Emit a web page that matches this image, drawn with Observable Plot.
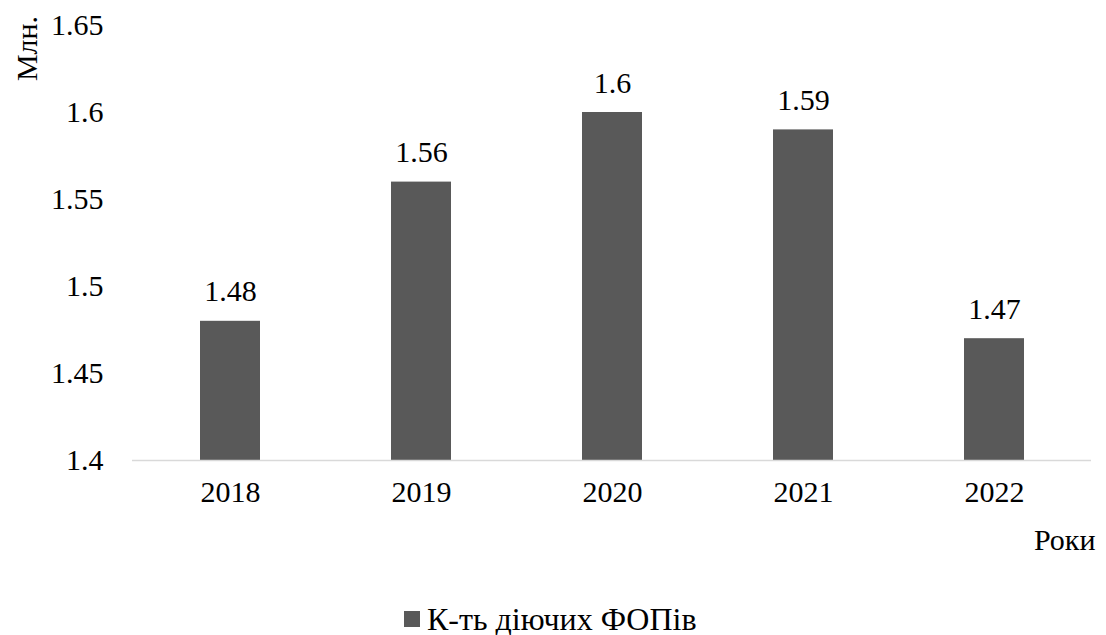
<!DOCTYPE html>
<html>
<head>
<meta charset="utf-8">
<script src="https://cdn.jsdelivr.net/npm/d3@7"></script>
<script src="https://cdn.jsdelivr.net/npm/@observablehq/plot@0.6"></script>
<style>
  body { margin: 0; background: #fff; font-family: "Liberation Serif", "DejaVu Serif", serif; overflow: hidden; }
  #wrap { position: relative; width: 1106px; height: 635px; }
  #legend { position: absolute; left: 404px; top: 603px; height: 32px; display: flex; align-items: center; font-family: "Liberation Serif", "DejaVu Serif", serif; font-size: 32px; line-height: 32px; color: #000; }
  #legend .sw { width: 16px; height: 16px; background: #595959; margin-right: 7px; }
  svg text { font-family: "Liberation Serif", "DejaVu Serif", serif !important; }
</style>
</head>
<body>
<div id="wrap">
  <div id="chart"></div>
  <div id="legend"><span class="sw"></span><span>К-ть діючих ФОПів</span></div>
</div>
<script>
const years = ["2018", "2019", "2020", "2021", "2022"];
const values = [1.48, 1.56, 1.6, 1.59, 1.47];
const yTicks = [1.4, 1.45, 1.5, 1.55, 1.6, 1.65];
const xTitle = "Роки";
const yTitle = "Млн.";

const data = years.map((y, i) => ({year: y, value: values[i]}));

const chart = Plot.plot({
  width: 1106,
  height: 570,
  marginLeft: 132,
  marginRight: 15,
  marginTop: 25,
  marginBottom: 110,
  style: {fontFamily: "Liberation Serif, DejaVu Serif, serif", fontSize: "30px", color: "#000", background: "#fff"},
  x: {domain: years, paddingInner: 0.687, paddingOuter: 0.3435, label: null},
  y: {domain: [1.4, 1.65], label: null},
  marks: [
    Plot.axisY({ticks: yTicks, tickFormat: d => String(d), tickSize: 0, tickPadding: 29, fontSize: 30, label: null}),
    Plot.axisX({tickSize: 0, tickPadding: 20, fontSize: 30, label: null}),
    Plot.barY(data, {x: "year", y1: 1.4, y2: "value", fill: "#595959"}),
    Plot.ruleY([1.4], {stroke: "#d9d9d9", strokeWidth: 1.5}),
    Plot.text(data, {x: "year", y: "value", text: d => String(d.value), lineAnchor: "bottom", dy: -20, fontSize: 30, fill: "#000"}),
    Plot.text([xTitle], {frameAnchor: "bottom-right", dx: 4, dy: 89, text: d => d, fontSize: 30, textAnchor: "end", fill: "#000"}),
    Plot.text([yTitle], {frameAnchor: "top-left", dx: -105, dy: 23, rotate: -90, text: d => d, fontSize: 30, textAnchor: "middle", lineAnchor: "middle", fill: "#000"})
  ]
});
document.getElementById("chart").appendChild(chart);
</script>
</body>
</html>
